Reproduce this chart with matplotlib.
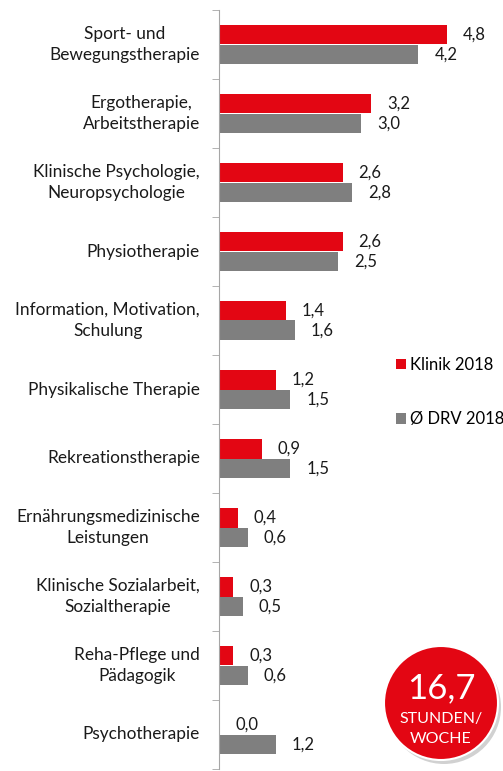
import matplotlib
matplotlib.use("Agg")
import matplotlib.pyplot as plt
from matplotlib.patches import Circle
import numpy as np

plt.rcParams['font.family'] = ['Lato', 'DejaVu Sans']

# Data
categories = [
    "Sport- und\nBewegungstherapie",
    "Ergotherapie,\nArbeitstherapie",
    "Klinische Psychologie,\nNeuropsychologie",
    "Physiotherapie",
    "Information, Motivation,\nSchulung",
    "Physikalische Therapie",
    "Rekreationstherapie",
    "Ernährungsmedizinische\nLeistungen",
    "Klinische Sozialarbeit,\nSozialtherapie",
    "Reha-Pflege und\nPädagogik",
    "Psychotherapie",
]
klinik = [4.8, 3.2, 2.6, 2.6, 1.4, 1.2, 0.9, 0.4, 0.3, 0.3, 0.0]
drv = [4.2, 3.0, 2.8, 2.5, 1.6, 1.5, 1.5, 0.6, 0.5, 0.6, 1.2]
total = "16,7"

RED = "#e30613"
GRAY = "#7f7f7f"
AXIS = "#a6a6a6"
TXT = "#1a1a1a"
FS = 12

W, H = 503, 771
fig = plt.figure(figsize=(W / 100, H / 100), dpi=100)
ax = fig.add_axes([219 / W, 2 / H, 285 / W, 759 / H])

y = np.arange(len(categories))
h = 0.28
ax.barh(y - h / 2, klinik, height=h, color=RED, label="Klinik 2018")
ax.barh(y + h / 2, drv, height=h, color=GRAY, label="Ø DRV 2018")

ax.set_xlim(0, 6)
ax.set_ylim(len(categories) - 0.5, -0.5)

for i, (a, b) in enumerate(zip(klinik, drv)):
    ax.annotate(f"{a:.1f}".replace(".", ","), (a, i - h / 2), xytext=(16, 0),
                textcoords="offset pixels", va="center", ha="left",
                fontsize=FS, color=TXT)
    ax.annotate(f"{b:.1f}".replace(".", ","), (b, i + h / 2), xytext=(16, 0),
                textcoords="offset pixels", va="center", ha="left",
                fontsize=FS, color=TXT)

# category labels
ax.set_yticks([])
ax.set_yticks(np.arange(len(categories) + 1) - 0.5, minor=True)
ax.tick_params(axis="y", which="minor", length=5, color=AXIS, labelleft=False)
for i, c in enumerate(categories):
    ax.annotate(c, (0, i), xycoords=ax.get_yaxis_transform(), xytext=(-19, 0),
                textcoords="offset pixels", ha="right", va="center",
                multialignment="center", fontsize=12.4, color=TXT, linespacing=1.45)

ax.set_xticks([])
for s in ["top", "right", "bottom"]:
    ax.spines[s].set_visible(False)
ax.spines["left"].set_color(AXIS)

leg = fig.legend(*ax.get_legend_handles_labels(), loc="upper left",
                 bbox_to_anchor=(396 / W, 1 - 357 / H),
                 frameon=False, fontsize=FS, handlelength=0.6, handleheight=0.6,
                 handletextpad=0.25, labelspacing=2.3, borderpad=0, borderaxespad=0)

# badge
ov = fig.add_axes([0, 0, 1, 1], facecolor="none")
ov.set_xlim(0, W)
ov.set_ylim(H, 0)
ov.axis("off")
ov.add_patch(Circle((444, 707), 57, color="#000000", alpha=0.18, lw=0))
ov.add_patch(Circle((441, 703), 57, facecolor=RED, edgecolor="white", lw=1.5))
ov.text(441, 688, total, color="white", fontsize=25, ha="center", va="center")
ov.text(441, 719, "STUNDEN/", color="white", fontsize=11.5, ha="center", va="center")
ov.text(441, 739, "WOCHE", color="white", fontsize=11.5, ha="center", va="center")

fig.savefig("out.png", dpi=100)
